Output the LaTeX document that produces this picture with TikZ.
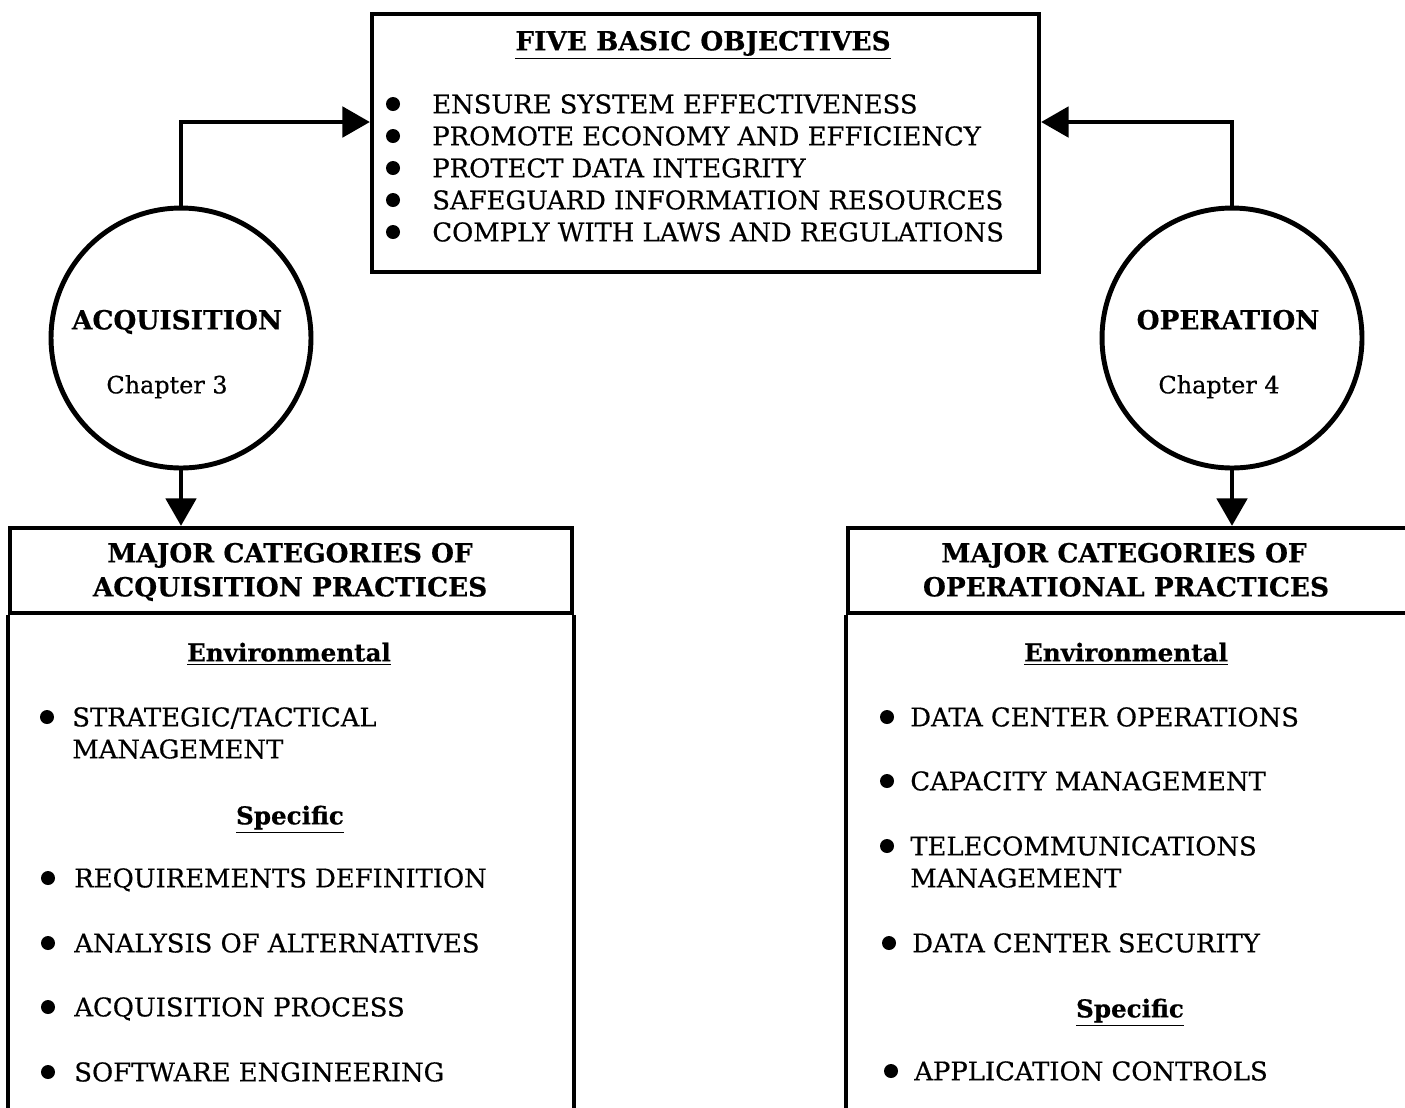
\documentclass[tikz,border=0pt]{standalone}
\usepackage{fontspec}
\setmainfont{DejaVu Serif}[FakeBold=0.5]
\usetikzlibrary{arrows.meta}
\newcommand{\txtsize}{\fontsize{14.7pt}{17pt}\selectfont}
\newcommand{\chsize}{\fontsize{13.6pt}{17pt}\selectfont}
\newcommand{\hdsize}{\fontsize{15pt}{18pt}\selectfont\bfseries}
\newcommand{\subsize}{\fontsize{14pt}{17pt}\selectfont\bfseries}
\tikzset{
  frame/.style={rectangle,draw=black,line width=2.4pt,inner sep=0pt},
  boxline/.style={draw=black,line width=2.4pt},
  chapcircle/.style={circle,draw=black,line width=2.8pt,minimum size=5.2cm,inner sep=0pt},
  arrow/.style={-{Triangle[length=0.55cm,width=0.6cm]},line width=2.8pt},
  item/.style={anchor=west,inner sep=0pt,text height=1.4ex,text depth=0pt,yshift=-1.7pt,font=\txtsize},
  heading/.style={inner sep=0pt,text height=1.4ex,text depth=0pt,yshift=-1.7pt,font=\hdsize},
  subhead/.style={inner sep=0pt,text height=1.4ex,text depth=0pt,yshift=-1.7pt,font=\subsize},
  chapname/.style={inner sep=0pt,text height=1.4ex,text depth=0pt,yshift=-1.7pt,font=\chsize}
}
\begin{document}
\begin{tikzpicture}[x=0.02cm,y=-0.02cm]
\useasboundingbox (0,0) rectangle (1405,1107);
\clip (0,0) rectangle (1405,1107);

% objectives box
\node[frame,minimum width=13.34cm,minimum height=5.16cm] (goals) at (705.5,143) {};
\node[heading] (goalstitle) at (703,41) {\underline{FIVE BASIC OBJECTIVES}};
\node[item] (g1) at (432,104) {ENSURE SYSTEM EFFECTIVENESS};
\node[item] (g2) at (432,136) {PROMOTE ECONOMY AND EFFICIENCY};
\node[item] (g3) at (432,168) {PROTECT DATA INTEGRITY};
\node[item] (g4) at (432,200) {SAFEGUARD INFORMATION RESOURCES};
\node[item] (g5) at (432,232) {COMPLY WITH LAWS AND REGULATIONS};
\fill (393,104) circle[radius=7];
\fill (393,136) circle[radius=7];
\fill (393,168) circle[radius=7];
\fill (393,200) circle[radius=7];
\fill (393,232) circle[radius=7];

% the two phases
\node[chapcircle] (acq) at (181,338) {};
\node[heading] (acqname) at (177,320) {ACQUISITION};
\node[chapname] (acqchap) at (167,384) {Chapter 3};
\node[chapcircle] (opr) at (1232,338) {};
\node[heading] (oprname) at (1228,320) {OPERATION};
\node[chapname] (oprchap) at (1219,384) {Chapter 4};

\draw[arrow] (acq.north) |- ([yshift=0.42cm]goals.west);
\draw[arrow] (opr.north) |- ([yshift=0.42cm]goals.east);

% practice boxes (open at the bottom)
\coordinate (cutoff) at (0,1130);
\node[frame,minimum width=11.24cm,minimum height=1.7cm] (acqhead) at (291,570.5) {};
\node[frame,minimum width=11.2cm,minimum height=1.7cm] (oprhead) at (1128,570.5) {};
\draw[boxline] (acqhead.south west) -- (acqhead.south west |- cutoff);
\draw[boxline] (acqhead.south east) -- (acqhead.south east |- cutoff);
\draw[boxline] (oprhead.south west) -- (oprhead.south west |- cutoff);
\draw[boxline] (oprhead.south east) -- (oprhead.south east |- cutoff);

\draw[arrow] (acq.south) -- (acq.south |- acqhead.north);
\draw[arrow] (opr.south) -- (opr.south |- oprhead.north);

% acquisition practices
\node[heading] (ah1) at (290,553) {MAJOR CATEGORIES OF};
\node[heading] (ah2) at (290,587) {ACQUISITION PRACTICES};
\node[subhead] (aenv) at (289,652) {\underline{Environmental}};
\node[item] (a1) at (72,717) {STRATEGIC/TACTICAL};
\node[item] (a1b) at (72,749) {MANAGEMENT};
\node[subhead] (aspec) at (290,815) {\underline{Specific}};
\node[item] (a2) at (74,878) {REQUIREMENTS DEFINITION};
\node[item] (a3) at (74,943) {ANALYSIS OF ALTERNATIVES};
\node[item] (a4) at (74,1007) {ACQUISITION PROCESS};
\node[item] (a5) at (74,1072) {SOFTWARE ENGINEERING};
\fill (47,717) circle[radius=7];
\fill (48,878) circle[radius=7];
\fill (48,943) circle[radius=7];
\fill (48,1007) circle[radius=7];
\fill (48,1072) circle[radius=7];

% operational practices
\node[heading] (oh1) at (1124,553) {MAJOR CATEGORIES OF};
\node[heading] (oh2) at (1126,587) {OPERATIONAL PRACTICES};
\node[subhead] (oenv) at (1126,652) {\underline{Environmental}};
\node[item] (o1) at (910,717) {DATA CENTER OPERATIONS};
\node[item] (o2) at (910,781) {CAPACITY MANAGEMENT};
\node[item] (o3) at (910,846) {TELECOMMUNICATIONS};
\node[item] (o3b) at (910,878) {MANAGEMENT};
\node[item] (o4) at (912,943) {DATA CENTER SECURITY};
\node[subhead] (ospec) at (1130,1008) {\underline{Specific}};
\node[item] (o5) at (914,1071) {APPLICATION CONTROLS};
\fill (887,717) circle[radius=7];
\fill (887,781) circle[radius=7];
\fill (887,846) circle[radius=7];
\fill (889,943) circle[radius=7];
\fill (891,1071) circle[radius=7];
\end{tikzpicture}
\end{document}
